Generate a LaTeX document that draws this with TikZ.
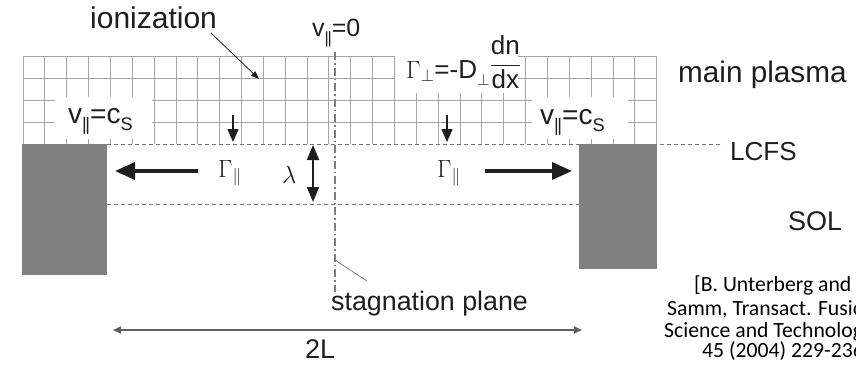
\documentclass[tikz,border=0pt]{standalone}
\usepackage{fontspec}
\usepackage{graphicx}
\setmainfont{Liberation Sans}
\newfontfamily\citefont{Carlito}
\usetikzlibrary{arrows.meta}
\definecolor{ink}{RGB}{30,30,30}
\definecolor{gridc}{RGB}{165,165,165}
\definecolor{dashc}{RGB}{120,120,120}
\definecolor{blockc}{RGB}{128,128,128}
\definecolor{axisc}{RGB}{125,125,125}
\definecolor{spanc}{RGB}{95,95,95}
\newcommand{\lsub}[1]{\raisebox{-0.28em}{\scalebox{0.65}{#1}}}
\newcommand{\dbar}{|\kern-0.08em|}
\newcommand{\fs}[1]{\fontsize{#1}{#1}\selectfont}
\begin{document}
\begin{tikzpicture}[x=1pt,y=-1pt,
  lbl/.style={inner sep=0pt, text=ink, anchor=base west},
  gridline/.style={draw=gridc, line width=0.9pt},
  bound/.style={draw=dashc, line width=1pt, dash pattern=on 4pt off 3pt},
  bigarrow/.style={draw=ink, line width=3.5pt, -{Triangle[length=20pt,width=17pt]}},
  fluxarrow/.style={draw=ink, line width=1.5pt, -{Triangle[length=13pt,width=11pt]}},
  lamarrow/.style={draw=ink, line width=2pt, {Triangle[length=15pt,width=12pt]}-{Triangle[length=15pt,width=12pt]}},
  spanarrow/.style={draw=spanc, line width=1.6pt, {Triangle[length=8pt,width=7pt]}-{Triangle[length=8pt,width=7pt]}},
  leader/.style={draw=ink, line width=0.8pt},
  plane/.style={draw=axisc, line width=1.1pt, dash pattern=on 8pt off 3pt on 1.5pt off 3pt}]
\useasboundingbox (0,0) rectangle (856,368);
\clip (0,0) rectangle (856,368);
% grid of the main plasma
\foreach \i in {0,...,29} \draw[gridline] ({23+21.85*\i},56) -- ({23+21.85*\i},144);
\foreach \y in {56,78,100,122} \draw[gridline] (23,\y) -- (656.7,\y);
% blanked zones behind labels
\fill[white] (55,97) rectangle (152,139);
\fill[white] (532,97) rectangle (628,139);
\fill[white] (395,44) rectangle (518,93);
% LCFS and SOL width
\draw[bound] (23,144) -- (723,144);
\draw[bound] (107,204) -- (579,204);
% limiter blocks
\fill[blockc] (22,144) rectangle (107,275);
\fill[blockc] (579,144) rectangle (657,269);
% stagnation plane
\coordinate (pTop) at (335,52);
\coordinate (pBot) at (335,292);
\draw[plane] (pTop) -- (pBot);
% labels
\node[lbl, font=\fs{30}] (ion) at (90,28) {ionization};
\node[lbl, font=\fs{25}] (v0) at (312,36) {v\lsub{\dbar}=0};
\node[lbl, font=\fs{28}] (vl) at (68,123) {v\lsub{\dbar}=c\lsub{S}};
\node[lbl, font=\fs{28}] (vr) at (540,124) {v\lsub{\dbar}=c\lsub{S}};
\node[lbl, font=\fs{26}] (gperp) at (406,78) {$\Gamma_{\perp}$=-D\lsub{$\perp$}\raisebox{6.5pt}{$\displaystyle\frac{\mbox{dn}}{\mbox{dx}}$}};
\node[lbl, font=\fs{29.7}] (mp) at (678,82) {main plasma};
\node[lbl, font=\fs{26}] (lcfs) at (730,160) {LCFS};
\node[lbl, font=\fs{27}] (sol) at (788,230) {SOL};
\node[lbl, font=\fs{26.8}] (stag) at (331,310) {stagnation plane};
\node[lbl, font=\fs{27}] (twoL) at (305,358) {2L};
\node[lbl, font=\fs{26}] (gl) at (218,177) {$\Gamma_{\|}$};
\node[lbl, font=\fs{26}] (gr) at (437,177) {$\Gamma_{\|}$};
\node[lbl, font=\fs{26}] (lam) at (282,183) {$\lambda$};
% citation
\node[lbl, text=black, font=\citefont\fs{21.7}] (c1) at (694,291) {[B. Unterberg and U.};
\node[lbl, text=black, font=\citefont\fs{21.7}] (c2) at (667,315) {Samm, Transact. Fusion};
\node[lbl, text=black, font=\citefont\fs{21.7}] (c3) at (664,337) {Science and Technology};
\node[lbl, text=black, font=\citefont\fs{21.7}] (c4) at (702,357) {45 (2004) 229-236]};
% connectors
\coordinate (ionA) at (211,33);
\coordinate (ionB) at (259,79);
\draw[leader, -{Triangle[length=8pt,width=6pt]}] (ionA) -- (ionB);
\coordinate (stA) at (335,260);
\coordinate (stB) at (367,281);
\draw[leader, draw=axisc] (stA) -- (stB);
\coordinate (aLs) at (198,171);
\coordinate (aLe) at (115,171);
\draw[bigarrow] (aLs) -- (aLe);
\coordinate (aRs) at (485,171);
\coordinate (aRe) at (572,171);
\draw[bigarrow] (aRs) -- (aRe);
\coordinate (lamT) at (313,145);
\coordinate (lamB) at (313,202);
\draw[lamarrow] (lamT) -- (lamB);
\coordinate (dLs) at (233,115);
\coordinate (dLe) at (233,142);
\draw[fluxarrow] (dLs) -- (dLe);
\coordinate (dRs) at (447,115);
\coordinate (dRe) at (447,142);
\draw[fluxarrow] (dRs) -- (dRe);
\coordinate (spL) at (113,330);
\coordinate (spR) at (582,330);
\draw[spanarrow] (spL) -- (spR);
\end{tikzpicture}
\end{document}
